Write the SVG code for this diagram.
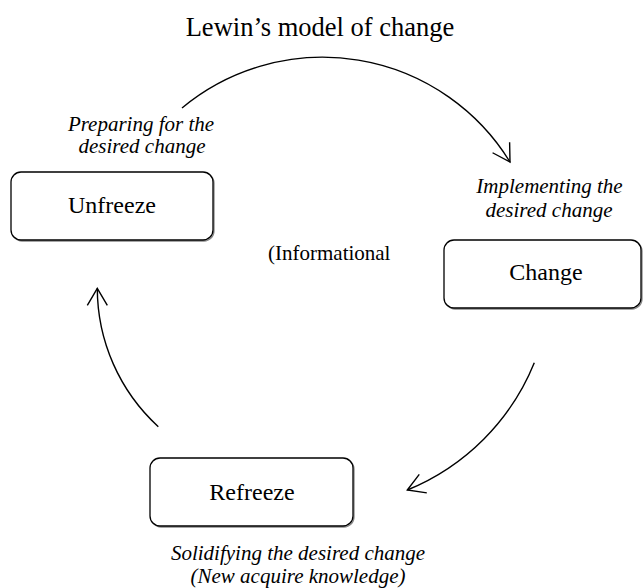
<svg xmlns="http://www.w3.org/2000/svg" width="643" height="588" viewBox="0 0 643 588" font-family="'Liberation Serif', Tinos, 'Times New Roman', Times, serif">
  <style>
    text { font-family: 'Liberation Serif', Tinos, 'Times New Roman', Times, serif; fill: #000; }
    .title { font-size: 26.5px; text-anchor: middle; }
    .label { font-size: 24px; text-anchor: middle; }
    .note { font-size: 21px; font-style: italic; text-anchor: middle; }
    .plain { font-size: 21px; }
    .box { fill: #fff; stroke: #000; stroke-width: 1.3; }
    .shadow { fill: none; stroke: #888; stroke-width: 1.3; }
    .arc { fill: none; stroke: #000; stroke-width: 1.4; }
  </style>
  <defs>
    <marker id="open" markerUnits="userSpaceOnUse" markerWidth="24" markerHeight="24" viewBox="-20 -12 22 24" refX="0" refY="0" orient="auto">
      <path d="M -17,-10 L 0,0 L -17,10" fill="none" stroke="#000" stroke-width="1.4"/>
    </marker>
  </defs>

  <rect width="643" height="588" fill="#fff"/>

  <text class="title" x="320" y="36">Lewin’s model of change</text>

  <!-- cycle connectors -->
  <g id="connectors">
    <path class="arc" d="M 182,108 A 220 220 0 0 1 510,162" marker-end="url(#open)"/>
    <path class="arc" d="M 534.3,362.7 A 231 231 0 0 1 407.3,490" marker-end="url(#open)"/>
    <path class="arc" d="M 158.3,426.7 A 188 188 0 0 1 97.3,288.3" marker-end="url(#open)"/>
  </g>

  <g id="unfreeze">
    <rect class="shadow" x="12" y="173" width="202" height="68" rx="10"/>
    <rect class="box" x="11" y="172" width="202" height="68" rx="10"/>
    <text class="label" x="112" y="213">Unfreeze</text>
    <text class="note" x="141" y="131">Preparing for the</text>
    <text class="note" x="142" y="153">desired change</text>
  </g>

  <g id="change">
    <rect class="shadow" x="445" y="241" width="197" height="68" rx="10"/>
    <rect class="box" x="444" y="240" width="197" height="68" rx="10"/>
    <text class="label" x="546" y="280">Change</text>
    <text class="note" x="549.5" y="193">Implementing the</text>
    <text class="note" x="549" y="217">desired change</text>
  </g>

  <g id="refreeze">
    <rect class="shadow" x="151" y="459" width="203" height="68" rx="10"/>
    <rect class="box" x="150" y="458" width="203" height="68" rx="10"/>
    <text class="label" x="252" y="500">Refreeze</text>
    <text class="note" x="298" y="560">Solidifying the desired change</text>
    <text class="note" x="298" y="583">(New acquire knowledge)</text>
  </g>

  <text class="plain" x="268" y="260">(Informational</text>
</svg>
